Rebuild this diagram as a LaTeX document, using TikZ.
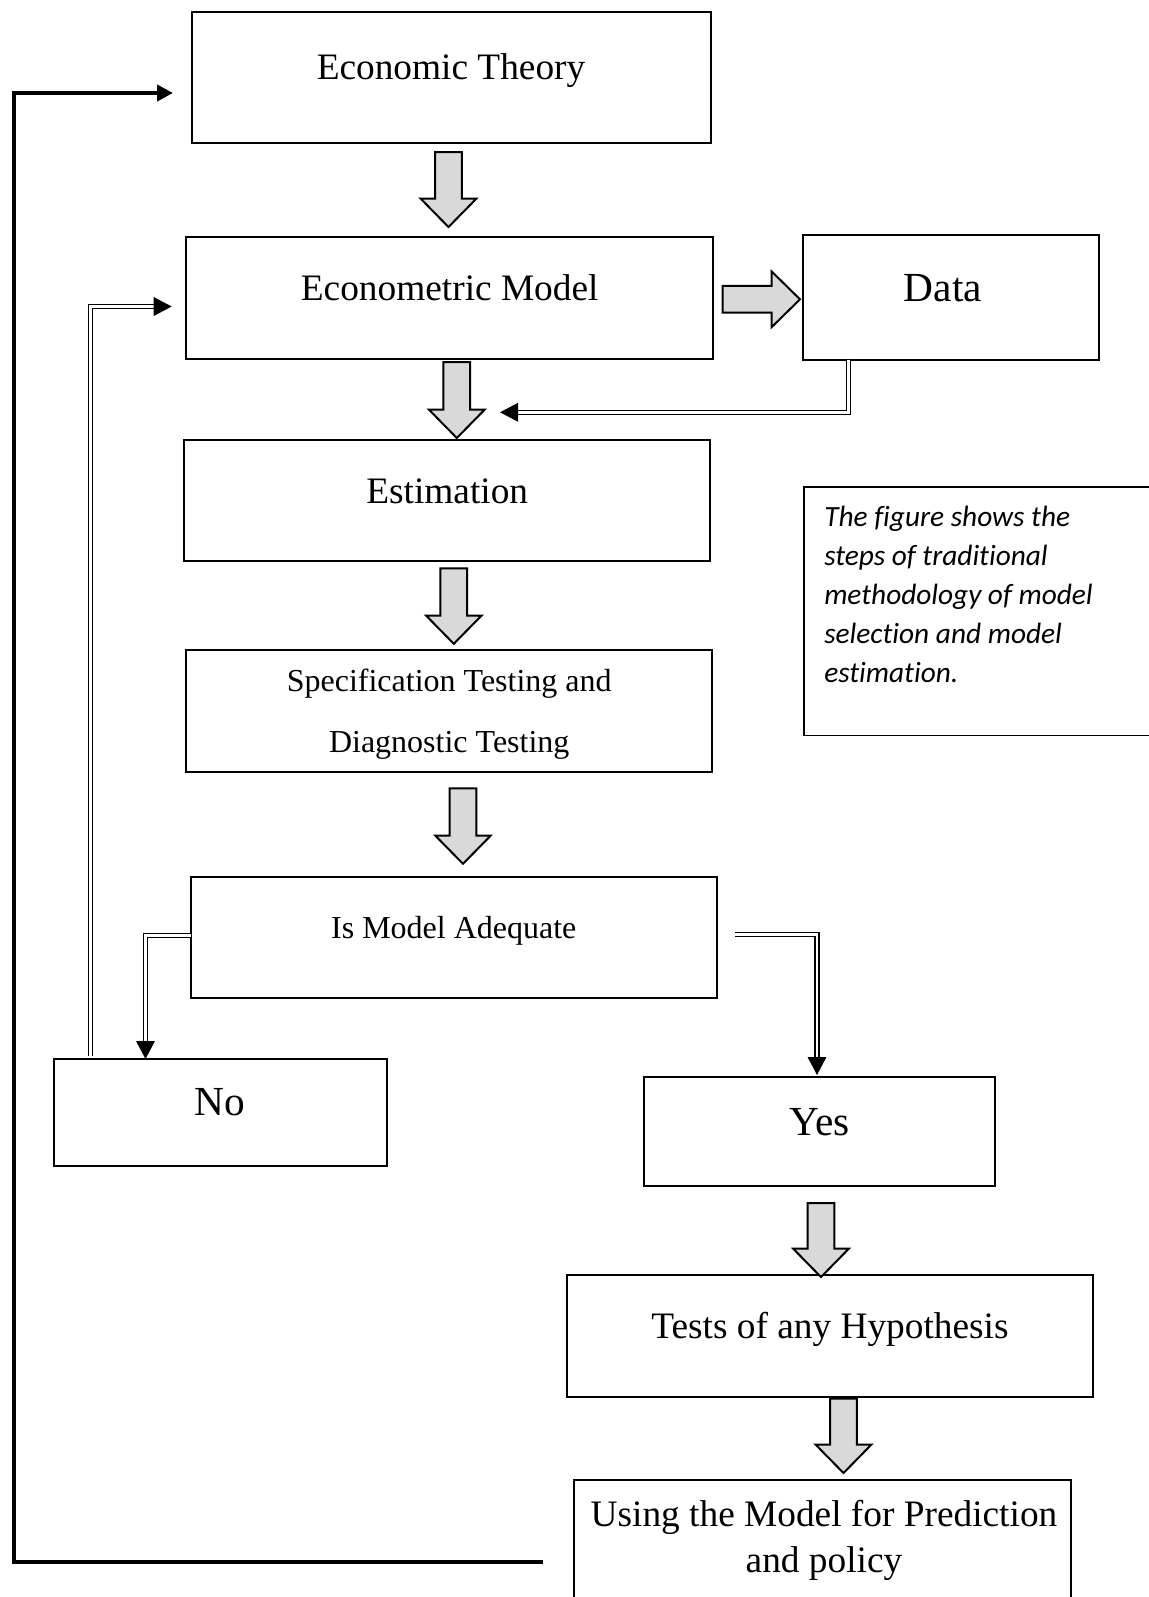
\documentclass[tikz,border=0pt]{standalone}
\usepackage{fontspec}
\setmainfont{Liberation Serif}
\newfontfamily\notefont[Ligatures=NoCommon]{Carlito}
\usetikzlibrary{arrows.meta,fit}
\definecolor{blockgray}{RGB}{217,217,217}
\begin{document}
\begin{tikzpicture}[x=0.75pt,y=-0.75pt,
  box/.style={draw, line width=1.5pt, inner sep=0pt},
  lbl/.style={anchor=base, inner sep=0pt},
  big/.style={font=\fontsize{28}{33}\selectfont},
  huge/.style={font=\fontsize{31}{36}\selectfont},
  mid/.style={font=\fontsize{24}{28}\selectfont},
  notetext/.style={anchor=base west, inner sep=0pt, font=\notefont\itshape\fontsize{22}{29}\selectfont},
  blockarrow/.style={draw, fill=blockgray, line width=1.5pt, line join=miter},
  dline/.style={double, double distance=2.2pt, line width=0.8pt,
    -{Triangle[length=13.5pt,width=14pt]}},
  fbline/.style={line width=3pt, line join=miter, -{Triangle[length=12pt,width=12pt]}},
  pics/blockdown/.style={code={
    \draw[blockarrow] (-13.4,0) -- (13.4,0) -- (13.4,#1-28.3) -- (27.8,#1-28.3)
      -- (0,#1) -- (-27.8,#1-28.3) -- (-13.4,#1-28.3) -- cycle;}},
  pics/blockright/.style={code={
    \draw[blockarrow] (0,-13.4) -- (#1-28.3,-13.4) -- (#1-28.3,-27.8)
      -- (#1,0) -- (#1-28.3,27.8) -- (#1-28.3,13.4) -- (0,13.4) -- cycle;}}
]
\useasboundingbox (0,0) rectangle (1149,1597);

% boxes
\node (econ)  [box, fit={(191.5,12.2) (711,142.6)}] {};
\node (ecmod) [box, fit={(186.4,237.3) (713,358.5)}] {};
\node (data)  [box, fit={(802.6,235.3) (1099,359.6)}] {};
\node (est)   [box, fit={(184.4,440) (710,561)}] {};
\node (spec)  [box, fit={(186.4,650) (712,772)}] {};
\node (adeq)  [box, fit={(190.5,877) (717,998)}] {};
\node (no)    [box, fit={(54,1059) (387,1166)}] {};
\node (yes)   [box, fit={(643.8,1076.6) (995,1185.6)}] {};
\node (tests) [box, fit={(567.4,1275.3) (1093,1396.5)}] {};
\node (final) [box, fit={(573.5,1480) (1070.6,1660)}] {};
\node (note)  [box, line width=1.3pt, fit={(803.7,486.9) (1200,735.5)}] {};

% labels
\node (econT)  [lbl, big] at (451,79.5) {Economic Theory};
\node (ecmodT) [lbl, big] at (449.7,300) {Econometric Model};
\node (dataT)  [lbl, huge] at (943,301.5) {Data};
\node (estT)   [lbl, big] at (447.2,503) {Estimation};
\node (specT1) [lbl, mid] at (449.2,691) {Specification Testing and};
\node (specT2) [lbl, mid] at (449.2,752) {Diagnostic Testing};
\node (adeqT)  [lbl, mid] at (453.8,938.5) {Is Model Adequate};
\node (noT)    [lbl, huge] at (220,1115.5) {No};
\node (yesT)   [lbl, huge] at (820,1135) {Yes};
\node (testsT) [lbl, big] at (830,1338) {Tests of any Hypothesis};
\node (finalT1) [lbl, big] at (824,1526) {Using the Model for Prediction};
\node (finalT2) [lbl, big] at (824,1572) {and policy};

\node (note1) [notetext] at (824,526) {The figure shows the};
\node (note2) [notetext] at (824,565.2) {steps of traditional};
\node (note3) [notetext] at (824,604.4) {methodology of model};
\node (note4) [notetext] at (824,643.6) {selection and model};
\node (note5) [notetext] at (824,682.8) {estimation.};

% block arrows between the steps
\pic (a1) at (448.5,152) {blockdown=75};
\pic (a2) at (456.8,362) {blockdown=76};
\pic (a3) at (453.8,568.4) {blockdown=75.4};
\pic (a4) at (463,788.4) {blockdown=75.4};
\pic (a5) at (821,1203) {blockdown=74};
\pic (a6) at (843.5,1398.5) {blockdown=74.5};
\pic (a7) at (722.7,299.3) {blockright=77.3};

% double-line connectors
\coordinate (dataOut) at (848.7,359.6);
\coordinate (dataTip) at (500,412.3);
\draw[dline] (dataOut) |- (dataTip);

\coordinate (adeqL) at (190.5,935.5);
\coordinate (noTip) at (145.5,1059);
\draw[dline] (adeqL) -| (noTip);

\coordinate (noOut) at (90.5,1056);
\coordinate (ecmodTip) at (171.7,306.5);
\draw[dline] (noOut) |- (ecmodTip);

\coordinate (adeqR) at (735,934.5);
\coordinate (yesTip) at (817,1075);
\draw[dline] (adeqR) -| (yesTip);

% feedback loop back to the theory
\coordinate (fbStart) at (543,1561.5);
\coordinate (fbTip) at (173,93);
\draw[fbline] (fbStart) -- (13.5,1561.5) -- (13.5,93) -- (fbTip);
\end{tikzpicture}
\end{document}
